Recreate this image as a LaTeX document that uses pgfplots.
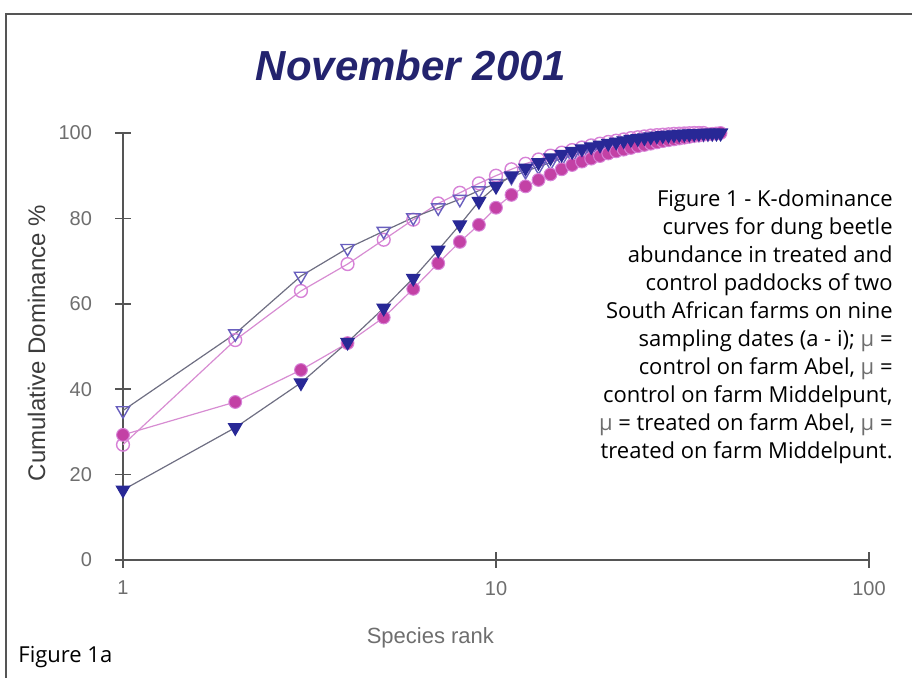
\documentclass[border=0pt]{standalone}
\usepackage{fontspec}
\setmainfont{Liberation Sans}
\newfontfamily\capfont{Open Sans}
\usepackage{graphicx}
\usepackage{pgfplots}
\pgfplotsset{compat=1.18}
\usepackage{pgfplotstable}

\definecolor{navy}{RGB}{40,40,150}
\definecolor{titleblue}{RGB}{35,35,110}
\definecolor{magfill}{RGB}{195,65,165}
\definecolor{pinkline}{RGB}{215,140,210}
\definecolor{purpopen}{RGB}{105,95,190}
\definecolor{pinkopen}{RGB}{215,130,215}
\definecolor{axgray}{RGB}{85,85,85}
\definecolor{ylblgray}{RGB}{60,60,60}
\definecolor{lblgray}{RGB}{110,110,110}
\definecolor{linegray}{RGB}{110,110,130}

\pgfplotstableread{
rank val
1 35
2 53
3 66.5
4 73
5 77
6 80.2
7 82.5
8 84.5
9 86.5
10 88.2
11 89.7
12 91
13 92.1
14 93.1
15 94
16 94.7
17 95.3
18 95.9
19 96.4
20 96.8
21 97.2
22 97.6
23 97.9
24 98.2
25 98.4
26 98.6
27 98.8
28 99
29 99.1
30 99.25
31 99.4
32 99.5
33 99.6
34 99.7
35 99.8
36 99.85
37 99.9
38 99.95
39 100
40 100
}\ctrlAbel

\pgfplotstableread{
rank val
1 27
2 51.5
3 63
4 69.3
5 75
6 79.7
7 83.5
8 86
9 88.2
10 90
11 91.5
12 92.8
13 93.8
14 94.7
15 95.4
16 96
17 96.6
18 97.1
19 97.5
20 97.9
21 98.2
22 98.5
23 98.8
24 99
25 99.2
26 99.4
27 99.5
28 99.6
29 99.7
30 99.8
31 99.85
32 99.9
33 99.95
34 100
35 100
36 100
}\ctrlMidd

\pgfplotstableread{
rank val
1 16.4
2 31
3 41.5
4 51
5 59
6 66
7 72.6
8 78.5
9 84
10 87.5
11 90
12 91.8
13 93.1
14 94.2
15 95
16 95.7
17 96.3
18 96.8
19 97.2
20 97.6
21 97.9
22 98.2
23 98.5
24 98.7
25 98.9
26 99.1
27 99.3
28 99.4
29 99.5
30 99.6
31 99.7
32 99.75
33 99.8
34 99.85
35 99.9
36 99.95
37 100
38 100
39 100
40 100
}\trtAbel

\pgfplotstableread{
rank val
1 29.3
2 37
3 44.5
4 50.8
5 56.8
6 63.5
7 69.5
8 74.5
9 78.5
10 82.5
11 85.5
12 87.5
13 89
14 90.3
15 91.5
16 92.5
17 93.3
18 94
19 94.6
20 95.2
21 95.7
22 96.1
23 96.5
24 96.9
25 97.2
26 97.5
27 97.8
28 98.1
29 98.3
30 98.5
31 98.7
32 98.9
33 99.1
34 99.3
35 99.4
36 99.6
37 99.7
38 99.8
39 99.9
40 100
}\trtMidd

\begin{document}
\begin{tikzpicture}
\useasboundingbox (0,0) rectangle (456pt,339pt);
\draw[axgray, line width=1pt] (3pt,-2pt) -- (3pt,332pt) -- (458pt,332pt);

\begin{axis}[
  at={(61.5pt,59pt)}, anchor=south west,
  scale only axis, width=373pt, height=213.5pt,
  xmode=log, xmin=1, xmax=100, ymin=0, ymax=100,
  enlargelimits=false, clip=false,
  axis x line*=bottom, axis y line*=left,
  axis line style={-, axgray, line width=1pt},
  xtick={1,10,100}, ytick={0,20,40,60,80,100},
  xminorticks=false, yminorticks=false,
  log ticks with fixed point,
  tick align=center, major tick length=8pt,
  tick style={axgray, line width=0.8pt},
  /pgf/number format/assume math mode=true,
  tick label style={font=\fontsize{10}{12}\selectfont, text=lblgray},
  yticklabel style={xshift=-8pt},
  xticklabel style={yshift=-3pt},
  xlabel={Species rank},
  xlabel style={at={(axis description cs:0.412,-0.183)}, anchor=center,
    font=\fontsize{11}{13}\selectfont, text=lblgray},
  ylabel={Cumulative Dominance \%},
  ylabel style={at={(axis description cs:-0.116,0.508)}, anchor=center,
    font=\fontsize{12}{14}\selectfont, text=ylblgray},
  title={\fontsize{21}{24}\selectfont\bfseries\itshape November 2001},
  title style={at={(axis description cs:0.386,1.129)}, anchor=center, text=titleblue},
]
\addplot[pinkline, line width=0.6pt, mark=o, mark size=3.2pt,
  mark options={draw=pinkopen, fill=white, line width=0.7pt}] table[x=rank,y=val] {\ctrlMidd};
\addplot[linegray, line width=0.6pt, mark=triangle, mark size=3.8pt,
  mark options={draw=purpopen, fill=none, rotate=180, line width=0.7pt}] table[x=rank,y=val] {\ctrlAbel};
\addplot[pinkline, line width=0.6pt, mark=*, mark size=3.2pt,
  mark options={draw=pinkopen, fill=magfill, line width=0.5pt}] table[x=rank,y=val] {\trtMidd};
\addplot[linegray, line width=0.6pt, mark=triangle*, mark size=3.8pt,
  mark options={draw=navy, fill=navy, rotate=180}] table[x=rank,y=val] {\trtAbel};
\end{axis}

\begin{scope}[every node/.style={anchor=base east, inner sep=0pt, font=\capfont\fontsize{11}{13}\selectfont}]
\node at (446.5pt,235.5pt) {Figure 1 - K-dominance};
\node at (446.5pt,221.55pt) {curves for dung beetle};
\node at (446.5pt,207.6pt) {abundance in treated and};
\node at (446.5pt,193.65pt) {control paddocks of two};
\node at (446.5pt,179.7pt) {South African farms on nine};
\node at (446.5pt,165.75pt) {sampling dates (a - i); \textcolor{lblgray}{µ} =};
\node at (446.5pt,151.8pt) {control on farm Abel, \textcolor{lblgray}{µ} =};
\node at (446.5pt,137.85pt) {control on farm Middelpunt,};
\node at (446.5pt,123.9pt) {\textcolor{lblgray}{µ} = treated on farm Abel, \textcolor{lblgray}{µ} =};
\node at (446.5pt,109.95pt) {treated on farm Middelpunt.};
\end{scope}
\node[anchor=base west, inner sep=0pt, font=\capfont\fontsize{11}{13}\selectfont] at (9pt,7.5pt) {Figure 1a};
\end{tikzpicture}
\end{document}
